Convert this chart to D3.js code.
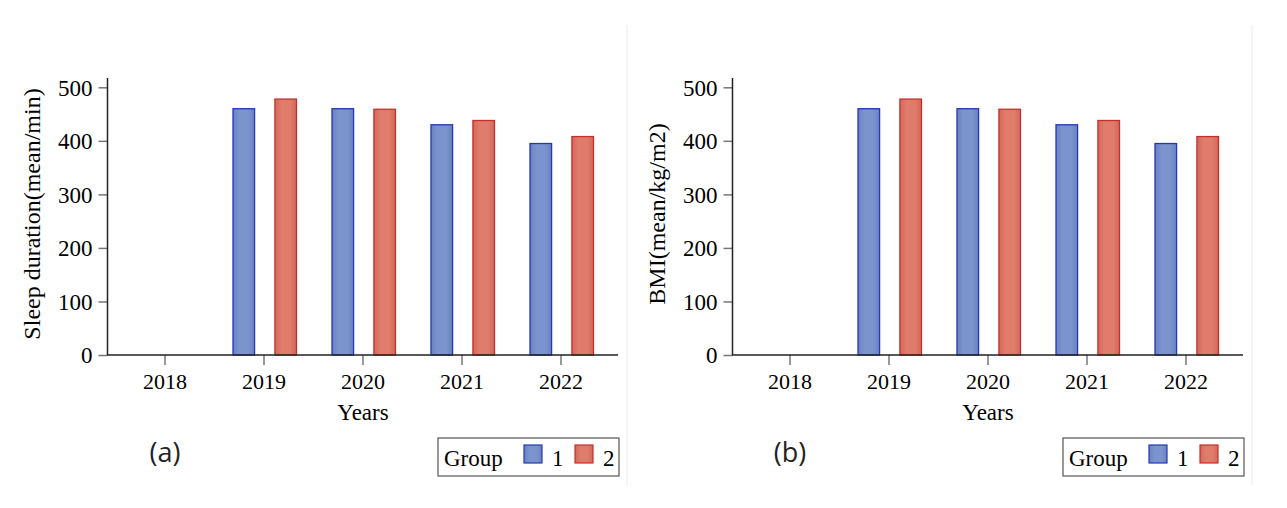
<!DOCTYPE html>
<html>
<head>
<meta charset="utf-8">
<script src="https://cdn.jsdelivr.net/npm/d3@7"></script>
<style>
  html, body { margin: 0; padding: 0; background: #ffffff; }
  svg { display: block; }
  .serif { font-family: "Liberation Serif", "Times New Roman", serif; fill: #000; }
  .sans { font-family: "Open Sans", "DejaVu Sans", sans-serif; fill: #222; }
</style>
</head>
<body>
<svg id="chart" width="1287" height="508"></svg>
<script>
// Survey years on the x axis
const years = ["2018", "2019", "2020", "2021", "2022"];
// Group means per year (no data collected for 2018)
const group1 = [null, 460, 460, 430, 395];
const group2 = [null, 478, 459, 438, 408];
const groups = ["1", "2"];
const yTicks = [0, 100, 200, 300, 400, 500];
// Panel captions and y-axis titles
const panelTags = ["(a)", "(b)"];
const yTitles = ["Sleep duration(mean/min)", "BMI(mean/kg/m2)"];
const xTitle = "Years";
const legendTitle = "Group";

const svg = d3.select("#chart");
const defs = svg.append("defs");

const palette = {
  "1": { fill: "#7b94cd", edge: "#6a82c0", stroke: "#2438b5" },
  "2": { fill: "#e07c6c", edge: "#d2685a", stroke: "#c5302a" }
};

groups.forEach(g => {
  const grad = defs.append("linearGradient")
    .attr("id", "grad" + g).attr("x1", "0").attr("x2", "1").attr("y1", "0").attr("y2", "0");
  grad.append("stop").attr("offset", "0").attr("stop-color", palette[g].edge);
  grad.append("stop").attr("offset", "0.3").attr("stop-color", palette[g].fill);
  grad.append("stop").attr("offset", "0.7").attr("stop-color", palette[g].fill);
  grad.append("stop").attr("offset", "1").attr("stop-color", palette[g].edge);
});

const rows = years.map((y, i) => ({ year: y, values: { "1": group1[i], "2": group2[i] } }));

function drawPanel(offsetX, idx) {
  const g = svg.append("g").attr("transform", `translate(${offsetX},0)`);

  // faint panel frame on the right
  g.append("line")
    .attr("x1", 627).attr("x2", 627).attr("y1", 25).attr("y2", 485)
    .attr("stroke", "#f2f2f2").attr("stroke-width", 1.5);

  const x = d3.scaleBand().domain(years).range([115.5, 610.5]).padding(0);
  const xSub = d3.scaleBand().domain(groups).range([-31, 32.5]).paddingInner(0.485);
  const y = d3.scaleLinear().domain([0, 500]).range([355, 87.3]);

  // bars
  const yearG = g.selectAll(".year").data(rows).join("g")
    .attr("transform", d => `translate(${x(d.year) + x.bandwidth() / 2},0)`);
  yearG.selectAll("rect")
    .data(d => groups.filter(k => d.values[k] != null).map(k => ({ k, v: d.values[k] })))
    .join("rect")
    .attr("x", d => xSub(d.k))
    .attr("width", xSub.bandwidth())
    .attr("y", d => y(d.v))
    .attr("height", d => y(0) - y(d.v))
    .attr("fill", d => `url(#grad${d.k})`)
    .attr("stroke", d => palette[d.k].stroke)
    .attr("stroke-width", 1.3);

  // y axis
  const yAxis = g.append("g").attr("transform", "translate(107.5,0)")
    .call(d3.axisLeft(y).tickValues(yTicks).tickSize(9).tickPadding(6));
  yAxis.select(".domain").remove();
  yAxis.selectAll(".tick line").attr("stroke", "#777").attr("stroke-width", 1.5);
  yAxis.selectAll(".tick text").attr("class", "serif").attr("font-size", 23).attr("dy", "0.34em");
  g.append("line").attr("x1", 107.5).attr("x2", 107.5).attr("y1", 78).attr("y2", 355)
    .attr("stroke", "#222").attr("stroke-width", 1.5);

  // x axis
  const xAxis = g.append("g").attr("transform", "translate(0,355)")
    .call(d3.axisBottom(x).tickSize(10).tickPadding(8));
  xAxis.select(".domain").remove();
  xAxis.selectAll(".tick line").attr("stroke", "#777").attr("stroke-width", 1.5);
  xAxis.selectAll(".tick text").attr("class", "serif").attr("font-size", 22).attr("dy", "0.71em");
  g.append("line").attr("x1", 107).attr("x2", 618).attr("y1", 355).attr("y2", 355)
    .attr("stroke", "#222").attr("stroke-width", 1.5);

  // axis titles
  g.append("text").attr("class", "serif").attr("font-size", 23)
    .attr("text-anchor", "middle").attr("x", 363).attr("y", 420).text(xTitle);
  g.append("text").attr("class", "serif").attr("font-size", 24)
    .attr("text-anchor", "middle")
    .attr("transform", "translate(40,214) rotate(-90)")
    .text(yTitles[idx]);

  // panel tag
  g.append("text").attr("class", "sans").attr("font-size", 27)
    .attr("text-anchor", "middle").attr("x", 165).attr("y", 462).text(panelTags[idx]);

  // legend
  const lg = g.append("g");
  lg.append("rect").attr("x", 438).attr("y", 438).attr("width", 181).attr("height", 38)
    .attr("fill", "#fff").attr("stroke", "#555").attr("stroke-width", 1.2);
  lg.append("text").attr("class", "serif").attr("font-size", 23)
    .attr("x", 444).attr("y", 466).text(legendTitle);
  const sw = d3.scaleOrdinal().domain(groups).range([524, 575]);
  groups.forEach(k => {
    lg.append("rect").attr("x", sw(k)).attr("y", 445).attr("width", 18).attr("height", 18)
      .attr("fill", `url(#grad${k})`).attr("stroke", palette[k].stroke).attr("stroke-width", 1.2);
    lg.append("text").attr("class", "serif").attr("font-size", 23)
      .attr("x", sw(k) + 28).attr("y", 466).text(k);
  });
}

drawPanel(0, 0);
drawPanel(625, 1);
</script>
</body>
</html>
